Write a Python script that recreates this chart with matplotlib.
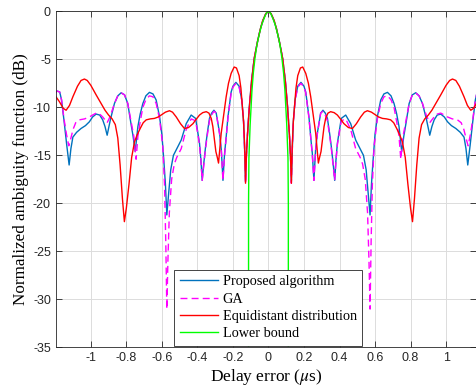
import matplotlib
matplotlib.use('Agg')
import matplotlib.pyplot as plt
import numpy as np

plt.rcParams['axes.unicode_minus'] = False
plt.rcParams['mathtext.fontset'] = 'stix'

# right half of each curve (delay >= 0), mirrored below
x_prop = [0.0, 0.015, 0.03, 0.045, 0.06, 0.08, 0.095, 0.108, 0.118, 0.124, 0.129, 0.134, 0.14, 0.15, 0.165,
          0.183, 0.2, 0.21, 0.228, 0.24, 0.247, 0.256, 0.265, 0.275, 0.294, 0.307, 0.32, 0.332, 0.345,
          0.354, 0.365, 0.373, 0.38, 0.388, 0.41, 0.435, 0.463, 0.491, 0.516, 0.535, 0.55, 0.562, 0.572,
          0.58, 0.589, 0.6, 0.613, 0.632, 0.65, 0.67, 0.69, 0.707, 0.722, 0.735, 0.75, 0.762, 0.773,
          0.792, 0.81, 0.829, 0.848, 0.867, 0.89, 0.908, 0.92, 0.933, 0.95, 0.97, 0.99, 1.008, 1.03,
          1.055, 1.08, 1.101, 1.112, 1.122, 1.135, 1.15, 1.165, 1.175, 1.19, 1.2]
y_prop = [0.0, -0.25, -0.9, -1.8, -3.0, -4.9, -7.2, -10.0, -12.8, -15.0, -17.7, -14.5, -11.5, -9.2, -7.8,
          -7.4, -7.8, -8.4, -11.0, -13.5, -14.8, -17.6, -14.5, -12.7, -10.6, -10.3, -10.6, -11.15, -12.8,
          -14.1, -16.0, -17.6, -15.5, -13.75, -11.15, -10.8, -11.7, -13.4, -14.3, -15.0, -16.5, -19.0, -21.2,
          -18.0, -15.5, -12.8, -10.98, -9.24, -8.6, -8.44, -8.8, -9.6, -10.7, -12.0, -14.6, -13.0, -11.8,
          -9.6, -8.7, -8.48, -8.8, -9.6, -11.3, -12.9, -12.0, -11.3, -10.8, -10.7, -11.0, -11.5, -11.9,
          -12.2, -12.6, -13.1, -14.3, -16.0, -14.0, -11.5, -9.2, -8.4, -8.3, -8.5]

x_ga = [0.0, 0.015, 0.03, 0.045, 0.06, 0.08, 0.095, 0.108, 0.118, 0.124, 0.129, 0.134, 0.14, 0.15, 0.165,
        0.183, 0.2, 0.21, 0.228, 0.24, 0.247, 0.256, 0.265, 0.275, 0.294, 0.307, 0.32, 0.332, 0.345,
        0.354, 0.365, 0.373, 0.38, 0.388, 0.41, 0.435, 0.463, 0.491, 0.516, 0.53, 0.545, 0.558, 0.566,
        0.572, 0.578, 0.585, 0.595, 0.613, 0.632, 0.65, 0.67, 0.69, 0.707, 0.722, 0.735, 0.745, 0.758,
        0.773, 0.792, 0.81, 0.829, 0.848, 0.867, 0.89, 0.908, 0.92, 0.933, 0.95, 0.97, 0.99, 1.008,
        1.035, 1.064, 1.085, 1.1, 1.112, 1.124, 1.137, 1.15, 1.165, 1.175, 1.19, 1.2]
y_ga = [0.0, -0.25, -0.9, -1.8, -3.0, -4.9, -7.2, -10.0, -12.8, -15.0, -17.9, -14.5, -11.5, -9.3, -7.9,
        -7.5, -7.9, -8.5, -11.1, -13.6, -15.0, -17.6, -14.6, -12.8, -10.6, -10.4, -10.8, -11.4, -13.0,
        -14.3, -16.2, -17.6, -15.6, -13.9, -11.4, -11.2, -12.3, -14.3, -15.2, -15.9, -17.5, -21.0, -26.0,
        -31.0, -24.0, -18.0, -14.0, -11.2, -9.6, -8.9, -8.8, -9.2, -10.0, -11.5, -13.0, -15.4, -13.0,
        -11.5, -9.6, -8.7, -8.5, -8.8, -9.6, -10.9, -11.6, -11.3, -11.0, -10.7, -10.6, -10.8, -11.0,
        -11.2, -11.3, -11.6, -12.3, -13.2, -14.0, -12.8, -11.3, -9.2, -8.4, -8.3, -8.5]

x_equi = [0.0, 0.015, 0.033, 0.045, 0.061, 0.08, 0.095, 0.108, 0.118, 0.124, 0.129, 0.134, 0.14, 0.146,
          0.155, 0.165, 0.18, 0.193, 0.21, 0.225, 0.238, 0.252, 0.266, 0.276, 0.281, 0.288, 0.296, 0.304,
          0.313, 0.322, 0.335, 0.35, 0.37, 0.388, 0.405, 0.425, 0.45, 0.473, 0.495, 0.519, 0.54, 0.557,
          0.58, 0.6, 0.62, 0.642, 0.665, 0.688, 0.705, 0.722, 0.74, 0.754, 0.77, 0.785, 0.8, 0.811,
          0.822, 0.835, 0.848, 0.862, 0.88, 0.9, 0.92, 0.945, 0.97, 1.0, 1.02, 1.036, 1.055, 1.075,
          1.101, 1.12, 1.139, 1.155, 1.177, 1.2]
y_equi = [0.0, -0.25, -1.0, -1.8, -3.1, -4.9, -7.3, -10.1, -12.85, -15.0, -17.9, -14.0, -11.5, -10.1,
          -8.0, -6.7, -5.9, -5.8, -6.46, -7.5, -8.9, -10.8, -12.7, -14.8, -15.8, -15.2, -14.6, -13.4,
          -12.0, -11.15, -10.6, -10.45, -10.55, -10.8, -11.2, -11.7, -12.1, -12.2, -11.7, -11.0, -10.5, -10.35,
          -10.5, -10.75, -11.0, -11.15, -11.2, -11.3, -11.6, -12.2, -12.9, -13.6, -15.2, -18.0, -20.5, -21.9,
          -19.5, -16.0, -13.2, -11.8, -11.2, -10.8, -10.3, -9.5, -8.7, -7.7, -7.2, -7.05, -7.2, -7.8,
          -8.9, -9.8, -10.3, -10.1, -9.4, -8.8]

x_lb = [0.0, 0.012, 0.024, 0.038, 0.052, 0.065, 0.076, 0.085, 0.093, 0.103, 0.11, 0.112, 0.112]
y_lb = [0.0, -0.2, -0.7, -1.4, -2.4, -3.5, -4.9, -6.4, -8.3, -11.8, -15.3, -20.0, -36.0]

labels = ['Proposed algorithm', 'GA', 'Equidistant distribution', 'Lower bound']


def mirror(x, y):
    x = np.asarray(x)
    y = np.asarray(y)
    return np.concatenate([-x[::-1], x[1:]]), np.concatenate([y[::-1], y[1:]])


fig = plt.figure(figsize=(4.77, 3.9), dpi=100)
ax = fig.add_axes([0.117, 0.109, 0.8815, 0.862])

xs, ys = mirror(x_prop, y_prop)
ax.plot(xs, ys, color='#0072BD', lw=1.0, label=labels[0])
xs, ys = mirror(x_ga, y_ga)
ax.plot(xs, ys, color='#FF00FF', lw=1.0, ls=(0, (5, 3)), label=labels[1])
xs, ys = mirror(x_equi, y_equi)
ax.plot(xs, ys, color='#FF0000', lw=1.0, label=labels[2])
xs, ys = mirror(x_lb, y_lb)
ax.plot(xs, ys, color='#00FF00', lw=1.0, label=labels[3])

ax.set_xlim(-1.197, 1.17)
ax.set_ylim(-35, 0)
ax.set_xticks([-1, -0.8, -0.6, -0.4, -0.2, 0, 0.2, 0.4, 0.6, 0.8, 1])
ax.set_xticklabels(['-1', '-0.8', '-0.6', '-0.4', '-0.2', '0', '0.2', '0.4', '0.6', '0.8', '1'])
ax.set_yticks(np.arange(-35, 1, 5))
ax.set_yticklabels([str(v) for v in range(-35, 1, 5)])
ax.tick_params(direction='in', top=True, right=True, length=4, width=0.6,
               labelsize=9, colors='#262626', labelcolor='#262626')
for lbl in ax.get_xticklabels() + ax.get_yticklabels():
    lbl.set_family('Liberation Sans')
for s in ax.spines.values():
    s.set_color('#262626')
    s.set_linewidth(0.6)
ax.grid(True, color='#dcdcdc', lw=0.7)
ax.set_axisbelow(True)

ax.set_xlabel(r'Delay error ($\mu$s)', family='Liberation Serif', fontsize=12.5, labelpad=2)
ax.set_ylabel('Normalized ambiguity function (dB)', family='Liberation Serif', fontsize=12.3, labelpad=3)

leg = ax.legend(loc='lower center', bbox_to_anchor=(0.505, 0.0), prop={'family': 'Liberation Serif', 'size': 10.3},
                fancybox=False, framealpha=1, edgecolor='#262626', handlelength=2.7, labelspacing=0.3,
                borderpad=0.4, borderaxespad=0.1, handletextpad=0.3)
leg.get_frame().set_linewidth(0.6)

fig.savefig('out.png', dpi=100)
